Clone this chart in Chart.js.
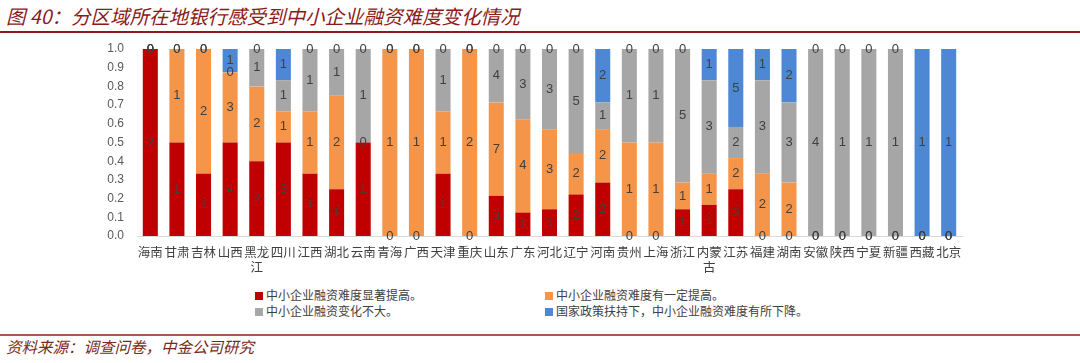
<!DOCTYPE html>
<html><head><meta charset="utf-8">
<script src="https://cdn.jsdelivr.net/npm/chart.js@4/dist/chart.umd.min.js"></script>
<style>
html,body{margin:0;padding:0;background:#fff;width:1080px;height:363px;overflow:hidden;position:relative;font-family:"Noto Sans CJK SC",sans-serif;}
#title{position:absolute;left:6px;top:2px;font-size:19.5px;font-style:italic;color:#8b1a1a;line-height:28px;white-space:nowrap;}
#topline{position:absolute;left:0;top:31px;width:1080px;height:2px;background:#8b1a1a;}
#wrap{position:absolute;left:0;top:0;width:1080px;height:285px;}
.lg{position:absolute;font-size:12px;line-height:15px;color:#404040;white-space:nowrap;}
.lg i{display:inline-block;width:8px;height:8px;margin-right:3px;vertical-align:0px;}
#botline{position:absolute;left:0;top:334px;width:1080px;height:2px;background:#a85a48;}
#source{position:absolute;left:6px;top:335px;font-size:15.5px;line-height:22px;font-style:italic;color:#7a2a1a;white-space:nowrap;}
</style></head><body>
<div id="title">图 40：分区域所在地银行感受到中小企业融资难度变化情况</div>
<div id="topline"></div>
<div id="wrap"><canvas id="c" width="1080" height="285"></canvas></div>
<div class="lg" style="left:255px;top:287px;"><i style="background:#c00000"></i>中小企业融资难度显著提高。</div>
<div class="lg" style="left:545px;top:287px;"><i style="background:#f5954a"></i>中小企业融资难度有一定提高。</div>
<div class="lg" style="left:255px;top:303px;"><i style="background:#a6a6a6"></i>中小企业融资变化不大。</div>
<div class="lg" style="left:545px;top:303px;"><i style="background:#4e88d4"></i>国家政策扶持下，中小企业融资难度有所下降。</div>
<div id="botline"></div>
<div id="source">资料来源：调查问卷，中金公司研究</div>
<script>
const categories = ['海南','甘肃','吉林','山西',['黑龙','江'],'四川','江西','湖北','云南','青海','广西','天津','重庆','山东','广东','河北','辽宁','河南','贵州','上海','浙江',['内蒙','古'],'江苏','福建','湖南','安徽','陕西','宁夏','新疆','西藏','北京'];
const seriesNames = ['中小企业融资难度显著提高。','中小企业融资难度有一定提高。','中小企业融资变化不大。','国家政策扶持下，中小企业融资难度有所下降。'];
const countSig  = [2,1,1,4,2,3,1,1,1,0,0,1,0,3,1,1,2,2,0,0,1,1,3,0,0,0,0,0,0,0,0];
const countSome = [0,1,2,3,2,1,1,2,0,1,1,1,2,7,4,3,2,2,1,1,1,1,2,2,2,0,0,0,0,0,0];
const countFlat = [0,0,0,0,1,1,1,1,1,0,0,1,0,4,3,3,5,1,1,1,5,3,2,3,3,4,1,1,1,0,0];
const countDown = [0,0,0,1,0,1,0,0,0,0,0,0,0,0,0,0,0,2,0,0,0,1,5,1,2,0,0,0,0,1,1];
const yTicks = [0,0.1,0.2,0.3,0.4,0.5,0.6,0.7,0.8,0.9,1.0];
const colors = ['#c00000','#f5954a','#a6a6a6','#4e88d4'];

const counts = [countSig,countSome,countFlat,countDown];
const totals = categories.map((_,i)=>counts.reduce((s,a)=>s+a[i],0));
const datasets = counts.map((arr,k)=>({
  label: seriesNames[k],
  data: arr.map((v,i)=>v/totals[i]),
  counts: arr,
  backgroundColor: colors[k],
  barPercentage: 0.565,
  categoryPercentage: 1.0,
  borderWidth: 0
}));

const labelPlugin = {
  id:'segLabels',
  afterDatasetsDraw(chart){
    const ctx = chart.ctx;
    ctx.save();
    ctx.font = '13px "Liberation Sans", Arial, sans-serif';
    ctx.fillStyle = '#404040';
    ctx.textAlign = 'center';
    ctx.textBaseline = 'middle';
    chart.data.datasets.forEach((ds,di)=>{
      const meta = chart.getDatasetMeta(di);
      meta.data.forEach((el,i)=>{
        const y = (el.y + el.base)/2;
        ctx.fillText(String(ds.counts[i]), el.x, y);
      });
    });
    ctx.restore();
  }
};

new Chart(document.getElementById('c'), {
  type:'bar',
  data:{labels:categories, datasets},
  options:{
    responsive:false, animation:false,
    layout:{padding:{top:49,right:118,bottom:0,left:0}},
    plugins:{legend:{display:false},tooltip:{enabled:false}},
    scales:{
      x:{stacked:true,
         grid:{display:false,drawTicks:false},
         border:{display:true,color:'#d9d9d9',width:1},
         ticks:{padding:8.5,color:'#404040',font:{family:'"Noto Sans CJK SC"',size:12.5,lineHeight:1.2},maxRotation:0,autoSkip:false},
         afterFit(s){s.height=49;}
      },
      y:{stacked:true,min:0,max:1,
         grid:{display:false,drawTicks:false},
         border:{display:false},
         afterBuildTicks(s){s.ticks = yTicks.map(v=>({value:v}));},
         ticks:{padding:13,color:'#595959',font:{family:'"Liberation Sans", Arial',size:12},callback:v=>Number(v).toFixed(1)},
         afterFit(s){s.width=137;}
      }
    }
  },
  plugins:[labelPlugin]
});
</script>
</body></html>
